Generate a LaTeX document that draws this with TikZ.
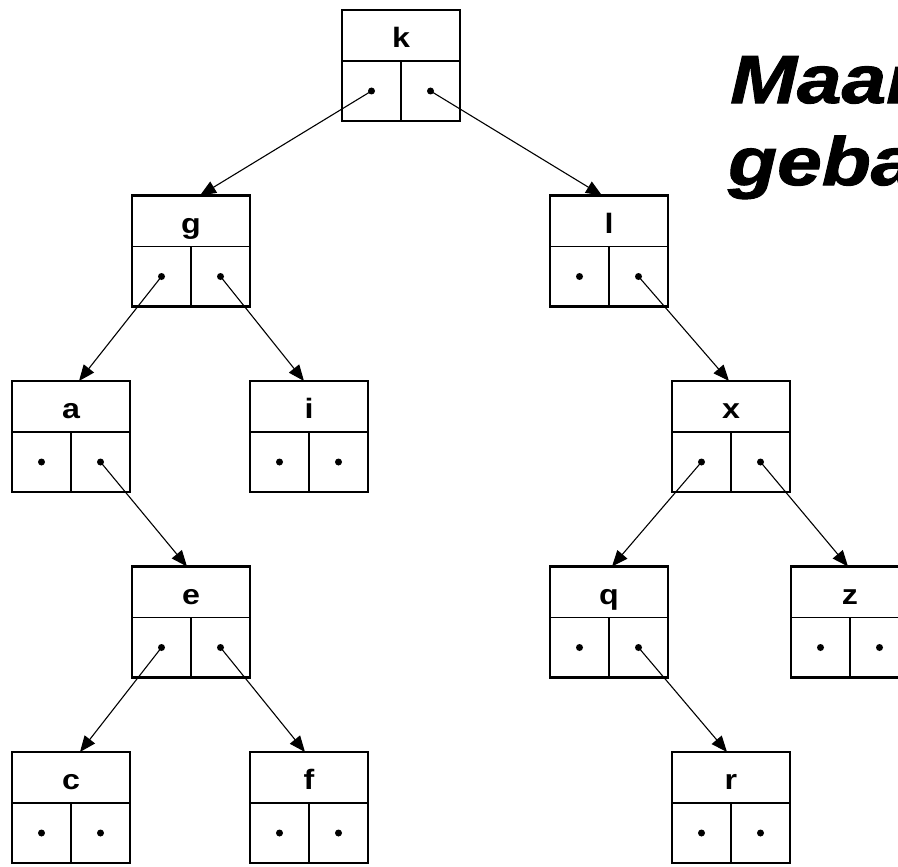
\documentclass[tikz,border=0pt]{standalone}
\usepackage{fontspec}
\setmainfont{Liberation Sans}
\newfontfamily\lblfont[FakeStretch=1.15]{Liberation Sans}
\newfontfamily\titlefont[FakeStretch=1.18,FakeBold=1.5]{Liberation Sans}
\usetikzlibrary{arrows.meta,calc}

\tikzset{
  bbox/.style={draw, line width=2.8pt, minimum width=118pt, minimum height=111pt, inner sep=0pt, outer sep=0pt},
  divider/.style={line width=1.5pt},
  lbl/.style={font=\lblfont\bfseries\fontsize{28}{28}\selectfont, anchor=base, inner sep=0pt},
  edge/.style={line width=1.1pt, -{Triangle[length=16pt,width=13pt]}},
  titletext/.style={font=\titlefont\bfseries\itshape\fontsize{68}{68}\selectfont, anchor=base west, inner sep=0pt}
}

\newcommand\treebox[4]{%
  \node[bbox] (#1) at (#3,{#4+55.5}) {};
  \draw[divider] ($(#1.north west)+(0,51)$) -- ($(#1.north east)+(0,51)$);
  \draw[divider] (#1.south) -- ($(#1.north)+(0,51)$);
  \node[lbl] (#1-lab) at ($(#1.north)+(0,37.5)$) {#2};
  \coordinate (#1-l) at ($(#1.south)+(-29.5,-30)$);
  \coordinate (#1-r) at ($(#1.south)+(29.5,-30)$);
  \fill (#1-l) circle[radius=3.5pt];
  \fill (#1-r) circle[radius=3.5pt];
}

\begin{document}
\begin{tikzpicture}[x=1pt,y=-1pt]
\useasboundingbox (0,0) rectangle (898,867);

\treebox{k}{k}{401}{10}
\treebox{g}{g}{191}{195.5}
\treebox{l}{l}{609}{195.5}
\treebox{a}{a}{71}{381}
\treebox{i}{i}{309}{381}
\treebox{x}{x}{731}{381}
\treebox{e}{e}{191}{566.5}
\treebox{q}{q}{609}{566.5}
\treebox{z}{z}{850}{566.5}
\treebox{c}{c}{71}{752}
\treebox{f}{f}{309}{752}
\treebox{r}{r}{731}{752}

\draw[edge] (k-l) -- ($(g.north)+(9,0)$);
\draw[edge] (k-r) -- ($(l.north)+(-7,0)$);
\draw[edge] (g-l) -- ($(a.north)+(8,0)$);
\draw[edge] (g-r) -- ($(i.north)+(-5,0)$);
\draw[edge] (l-r) -- ($(x.north)+(-2,0)$);
\draw[edge] (a-r) -- ($(e.north)+(-4,0)$);
\draw[edge] (x-l) -- ($(q.north)+(3,0)$);
\draw[edge] (x-r) -- ($(z.north)+(-2,0)$);
\draw[edge] (e-l) -- ($(c.north)+(9,0)$);
\draw[edge] (e-r) -- ($(f.north)+(-4,0)$);
\draw[edge] (q-r) -- ($(r.north)+(-4,0)$);

\node[titletext] (t1) at (730,103) {Maar};
\node[titletext] (t2) at (728,185) {geba};
\end{tikzpicture}
\end{document}
